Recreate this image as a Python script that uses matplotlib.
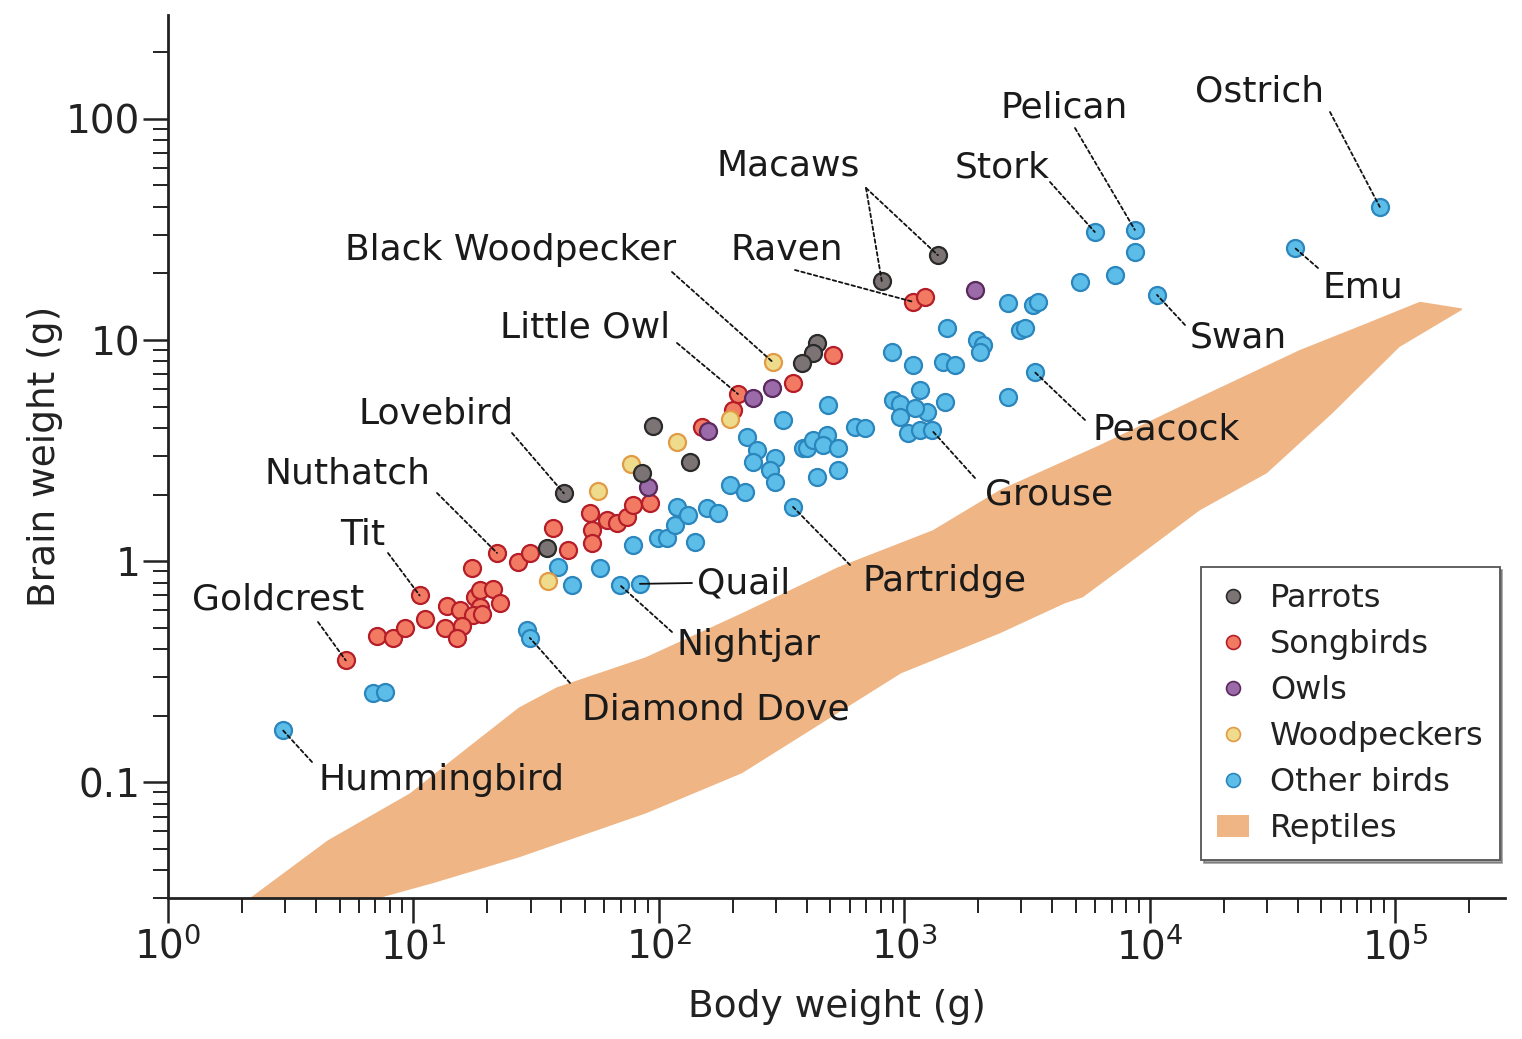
import matplotlib
matplotlib.use("Agg")
import matplotlib.pyplot as plt
from matplotlib.lines import Line2D
from matplotlib.patches import Patch
import numpy as np

# body weight (g) / brain weight (g)
parrots_x = [41, 35, 95, 134, 85, 440, 424, 382, 809, 1370]
parrots_y = [2.03, 1.15, 4.1, 2.8, 2.5, 9.7, 8.7, 7.9, 18.5, 24.2]

songbirds_x = [5.3, 7.1, 8.25, 9.2, 11.1, 10.6, 13.7, 15.5, 17.8, 18.7, 21.1, 22.5,
               18.7, 17.5, 15.8, 13.4, 15.0, 19.0, 17.3, 21.9, 26.7, 29.8, 37, 42.6,
               52.4, 53.3, 53.3, 61.4, 67.5, 74.1, 78.3, 91.9, 150, 200, 210, 352,
               512, 1083, 1213]
songbirds_y = [0.356, 0.46, 0.45, 0.50, 0.55, 0.70, 0.63, 0.60, 0.69, 0.74, 0.75, 0.65,
               0.62, 0.57, 0.51, 0.50, 0.45, 0.58, 0.93, 1.09, 0.99, 1.09, 1.41, 1.12,
               1.65, 1.38, 1.21, 1.53, 1.49, 1.58, 1.79, 1.83, 4.04, 4.82, 5.70, 6.39,
               8.55, 14.9, 15.7]

owls_x = [90, 158, 242, 289, 1940]
owls_y = [2.16, 3.87, 5.47, 6.07, 16.8]

woodpeckers_x = [291, 195, 119, 77, 56.5, 35.3]
woodpeckers_y = [7.95, 4.4, 3.45, 2.75, 2.07, 0.81]

other_x = [2.94, 6.84, 7.65, 29.0, 29.8, 38.8, 44.2, 57.5, 69.4, 83.7, 78.3, 99, 108,
           116, 118, 131, 140, 157, 174, 195, 224, 228, 251, 242, 297, 283, 297, 320,
           352, 386, 401, 424, 483, 466, 536, 440, 536, 488, 629, 690, 889, 897, 959,
           1156, 1462, 1235, 959, 1104, 1033, 1156, 1294, 1083, 1434, 1606, 1490,
           1974, 2091, 2031, 2642, 3337, 3499, 2953, 3096, 2642, 3401, 5190, 7200,
           5970, 8690, 8690, 10700, 39000, 86500]
other_y = [0.172, 0.253, 0.255, 0.49, 0.45, 0.94, 0.78, 0.93, 0.78, 0.79, 1.18, 1.28,
           1.27, 1.46, 1.76, 1.62, 1.22, 1.74, 1.65, 2.21, 2.05, 3.64, 3.18, 2.81, 2.92,
           2.58, 2.28, 4.35, 1.76, 3.25, 3.25, 3.53, 3.72, 3.35, 3.25, 2.40, 2.58, 5.08,
           4.04, 4.00, 8.83, 5.35, 5.14, 5.94, 5.24, 4.72, 4.48, 4.92, 3.79, 3.91, 3.91,
           7.71, 7.95, 7.71, 11.3, 10.0, 9.49, 8.83, 14.7, 14.4, 14.9, 11.1, 11.3, 5.52,
           7.16, 18.3, 19.7, 30.8, 31.5, 25.0, 16.0, 26.1, 40.0]

# reptile band: upper edge left->right, lower edge right->left
reptile_upper_x = [1.96, 4.48, 9.68, 16.7, 26.9, 38.4, 88.5, 218, 536, 1306, 2449,
                   6255, 15990, 40800, 76500, 126000, 187000]
reptile_upper_y = [0.0277, 0.0547, 0.0892, 0.144, 0.218, 0.269, 0.368, 0.582, 0.939,
                   1.38, 2.10, 3.35, 5.52, 9.01, 11.9, 14.9, 13.9]
reptile_lower_x = [187000, 104000, 55600, 29980, 15990, 8530, 5334, 4508, 2449, 968,
                   397, 218, 88.5, 26.9, 12.0, 5.6]
reptile_lower_y = [13.7, 9.30, 4.68, 2.50, 1.70, 1.01, 0.687, 0.645, 0.472, 0.311,
                   0.167, 0.110, 0.0724, 0.0458, 0.035, 0.0277]

# labelled birds: name, bird (x, y), text pos (px), leader start (px)
labels = [
    ("Ostrich", (86500, 40.0), (1195, 92), (1330, 112)),
    ("Pelican", (8690, 31.5), (1000, 108), (1075, 128)),
    ("Stork", (5970, 30.8), (955, 167), (1050, 182)),
    ("Macaws", (809, 18.5), (717, 166), (866, 188)),
    ("", (1370, 24.2), None, (866, 188)),
    ("Black Woodpecker", (291, 7.95), (345, 250), (672, 272)),
    ("Raven", (1083, 14.9), (730, 250), (795, 270)),
    ("Emu", (39000, 26.1), (1322, 288), (1318, 268)),
    ("Swan", (10700, 16.0), (1190, 338), (1185, 325)),
    ("Little Owl", (210, 5.70), (500, 328), (677, 343)),
    ("Lovebird", (41, 2.03), (358, 414), (512, 433)),
    ("Nuthatch", (21.9, 1.09), (265, 474), (437, 493)),
    ("Tit", (10.6, 0.70), (340, 535), (388, 553)),
    ("Goldcrest", (5.3, 0.356), (192, 600), (318, 622)),
    ("Hummingbird", (2.94, 0.172), (318, 780), (312, 762)),
    ("Diamond Dove", (29.8, 0.45), (582, 710), (570, 683)),
    ("Nightjar", (69.4, 0.78), (677, 645), (672, 632)),
    ("Quail", (83.7, 0.79), (697, 583), (692, 583)),
    ("Partridge", (352, 1.76), (862, 581), (850, 565)),
    ("Grouse", (1294, 3.91), (985, 495), (975, 478)),
    ("Peacock", (3401, 7.16), (1092, 430), (1085, 420)),
]

W, H = 1522, 1039


def fig_xy(px, py):
    return (px / W, 1 - py / H)


fig = plt.figure(figsize=(W / 100, H / 100), dpi=100)
ax = fig.add_axes([168 / W, 1 - 898 / H, (1505 - 168) / W, (898 - 15) / H])
ax.set_xscale("log")
ax.set_yscale("log")
ax.set_xlim(1, 2.8e5)
ax.set_ylim(0.03, 295)

reptile_color = "#efb584"
ax.fill(reptile_upper_x + reptile_lower_x, reptile_upper_y + reptile_lower_y,
        color=reptile_color, lw=0, zorder=1)

groups = {
    "Other birds": (other_x, other_y, "#5cbde8", "#2b86bd"),
    "Songbirds": (songbirds_x, songbirds_y, "#f27a63", "#b51e28"),
    "Woodpeckers": (woodpeckers_x, woodpeckers_y, "#eedb8c", "#e39a45"),
    "Owls": (owls_x, owls_y, "#9b6aa9", "#5a2a5c"),
    "Parrots": (parrots_x, parrots_y, "#7c7474", "#2a2a2a"),
}
for name, (xs, ys, fc, ec) in groups.items():
    ax.scatter(xs, ys, s=150, c=fc, edgecolors=ec, linewidths=1.6, zorder=3)

for name, (bx, by), tpos, lpos in labels:
    if tpos is not None:
        fig.text(*fig_xy(*tpos), name, fontsize=26, color="#1a1a1a",
                 ha="left", va="center")
    ls = "-" if name == "Quail" else (0, (2, 1.6))
    ax.annotate("", xy=(bx, by), xycoords="data",
                xytext=fig_xy(*lpos), textcoords="figure fraction",
                arrowprops=dict(arrowstyle="-", color="#111111", lw=1.3,
                                linestyle=ls, shrinkA=0, shrinkB=0),
                zorder=4)

for side in ("top", "right"):
    ax.spines[side].set_visible(False)
for side in ("left", "bottom"):
    ax.spines[side].set_linewidth(2)
    ax.spines[side].set_color("#222222")

ax.set_yticks([0.1, 1, 10, 100])
ax.set_yticklabels(["0.1", "1", "10", "100"])
ax.tick_params(which="major", length=18, width=1.8, labelsize=28, colors="#222222",
               pad=2)
ax.tick_params(which="minor", length=11, width=1.4, colors="#222222")
ax.tick_params(axis="x", pad=3)

ax.set_xlabel("Body weight (g)", fontsize=27, color="#222222", labelpad=16)
ax.set_ylabel("Brain weight (g)", fontsize=27, color="#222222", labelpad=2)

legend_order = ["Parrots", "Songbirds", "Owls", "Woodpeckers", "Other birds"]
handles = []
for name in legend_order:
    fc, ec = groups[name][2], groups[name][3]
    handles.append(Line2D([], [], ls="", marker="o", markersize=10,
                          markerfacecolor=fc, markeredgecolor=ec,
                          markeredgewidth=1.2, label=name))
handles.append(Patch(facecolor=reptile_color, edgecolor="none", label="Reptiles"))

leg = ax.legend(handles=handles, loc="lower right", bbox_to_anchor=(0.996, 0.043),
                fontsize=23, frameon=True, fancybox=False, shadow=True,
                labelspacing=0.47, handlelength=1.0, handletextpad=0.65,
                borderpad=0.5, borderaxespad=0)
leg.get_frame().set_edgecolor("#555555")
leg.get_frame().set_linewidth(1.3)
for t in leg.get_texts():
    t.set_color("#222222")

fig.savefig("out.png", dpi=100)
